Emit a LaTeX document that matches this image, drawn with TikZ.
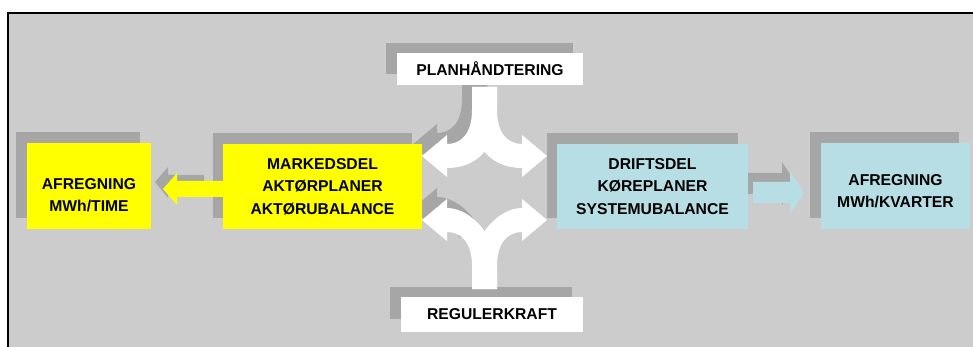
\documentclass[tikz,border=0pt]{standalone}
\usepackage{fontspec}
\setmainfont{Liberation Sans}
\definecolor{bg}{RGB}{204,204,204}
\definecolor{shd}{RGB}{166,166,166}
\definecolor{lblue}{RGB}{183,222,228}
\definecolor{ylw}{RGB}{255,255,0}
\tikzset{
  box/.style={inner sep=0pt, outer sep=0pt, align=center, text=black,
    font=\bfseries\fontsize{15.7}{22.5}\selectfont},
}
% left and right curved branches of a split arrow (local coords, branch centre at origin)
\newcommand\leftY[3]{%
  \fill[#1] (-12.5,-69) -- (12.5,-69) -- (12.5,-46) .. controls (12.5,#2) and (-#3,12) .. (-37.5,12) -- (-37.5,21) -- (-62.5,0) -- (-37.5,-21) -- (-37.5,-12) .. controls (-24.5,-12) and (-12.5,-21) .. (-12.5,-46) -- cycle;}
\newcommand\rightY[3]{%
  \fill[#1] (12.5,-69) -- (-12.5,-69) -- (-12.5,-46) .. controls (-12.5,#2) and (#3,12) .. (37.5,12) -- (37.5,21) -- (62.5,0) -- (37.5,-21) -- (37.5,-12) .. controls (24.5,-12) and (12.5,-21) .. (12.5,-46) -- cycle;}
\begin{document}
\begin{tikzpicture}[x=1pt,y=-1pt]
\useasboundingbox (0,0) rectangle (973,347);
\fill[white] (0,0) rectangle (973,347);
\fill[bg] (8,13) rectangle (973,347);
\draw[line width=2pt] (8.3,347) -- (8.3,13) -- (973,13);

% box shadows
\fill[shd] (16,132) rectangle (140,218);
\fill[shd] (213,133) rectangle (412,218);
\fill[shd] (547,133) rectangle (738,218);
\fill[shd] (810,132) rectangle (959,218);
\fill[shd] (386,43) rectangle (573,74);
\fill[shd] (390,287) rectangle (572,319);

% arrow shadows
\begin{scope}[shift={(474.5,145)}] \leftY{shd}{-6}{9.5} \end{scope}
\begin{scope}
  \clip (0,0) rectangle (973,236);
  \begin{scope}[shift={(474.5,209)}, yscale=-1] \leftY{shd}{-20}{12} \end{scope}
\end{scope}
\fill[shd] (204,175) -- (168,175) -- (168,167) -- (155,182) -- (168,198) -- (168,190) -- (204,190) -- cycle;
\fill[shd] (747,173) -- (782,173) -- (782,162) -- (796,183.5) -- (782,205) -- (782,194) -- (747,194) -- cycle;

% arrows
\begin{scope}[shift={(484.5,156)}] \leftY{white}{-6}{9.5} \rightY{white}{-6}{9.5} \end{scope}
\begin{scope}[shift={(484.5,220)}, yscale=-1] \leftY{white}{-20}{12} \rightY{white}{-20}{12} \end{scope}
\fill[ylw] (224,181) -- (177,181) -- (177,173) -- (163,189) -- (177,205) -- (177,197) -- (224,197) -- cycle;
\fill[lblue] (753,182) -- (790,182) -- (790,171) -- (804,192.5) -- (790,214) -- (790,203) -- (753,203) -- cycle;

% boxes
\node[box, fill=ylw, minimum width=124pt, minimum height=86pt] (afrl) at (89,186) {};
\node[box] (afrlt) at (89,195) {AFREGNING\\MWh/TIME};
\node[box, fill=ylw, minimum width=199pt, minimum height=85pt] (mark) at (322.5,186.5) {MARKEDSDEL\\AKTØRPLANER\\AKTØRUBALANCE};
\node[box, fill=lblue, minimum width=191pt, minimum height=85pt] (drift) at (652.5,186.5) {DRIFTSDEL\\KØREPLANER\\SYSTEMUBALANCE};
\node[box, fill=lblue, minimum width=149pt, minimum height=86pt] (afrr) at (895.5,186) {};
\node[box] (afrrt) at (895.5,191) {AFREGNING\\MWh/KVARTER};
\node[box, fill=white, minimum width=186pt, minimum height=32pt] (plan) at (490,69) {PLANHÅNDTERING};
\node[box, fill=white, minimum width=182pt, minimum height=35pt] (reg) at (492,314.5) {REGULERKRAFT};
\end{tikzpicture}
\end{document}
